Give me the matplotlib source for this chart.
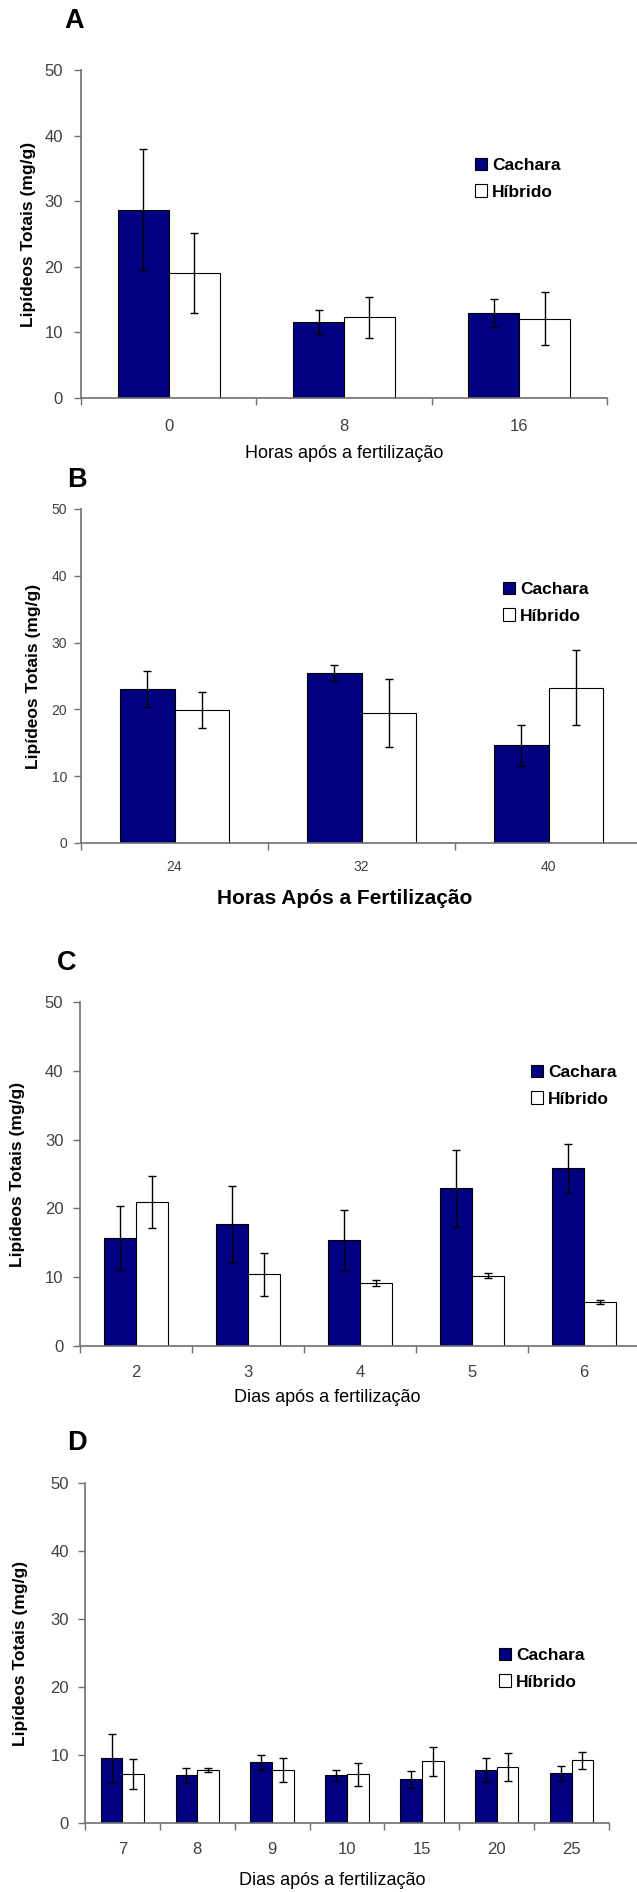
import matplotlib
matplotlib.use('Agg')
import matplotlib.pyplot as plt
import numpy as np

W, H = 637, 1892
DPI = 100

# ---------------- data ----------------
a_labels = ['0', '8', '16']
a_cachara = [28.7, 11.6, 12.9]
a_cachara_err = [9.2, 1.8, 2.15]
a_hibrido = [19.0, 12.3, 12.1]
a_hibrido_err = [6.1, 3.1, 4.05]

b_labels = ['24', '32', '40']
b_cachara = [23.1, 25.5, 14.6]
b_cachara_err = [2.7, 1.2, 3.05]
b_hibrido = [19.9, 19.4, 23.25]
b_hibrido_err = [2.7, 5.1, 5.6]

c_labels = ['2', '3', '4', '5', '6']
c_cachara = [15.7, 17.7, 15.35, 22.9, 25.8]
c_cachara_err = [4.7, 5.6, 4.4, 5.6, 3.5]
c_hibrido = [20.9, 10.4, 9.15, 10.2, 6.45]
c_hibrido_err = [3.75, 3.1, 0.4, 0.35, 0.3]

d_labels = ['7', '8', '9', '10', '15', '20', '25']
d_cachara = [9.5, 7.0, 8.9, 7.0, 6.4, 7.8, 7.3]
d_cachara_err = [3.6, 1.1, 1.07, 0.8, 1.2, 1.7, 1.1]
d_hibrido = [7.2, 7.8, 7.8, 7.15, 9.05, 8.25, 9.2]
d_hibrido_err = [2.15, 0.27, 1.8, 1.7, 2.1, 2.1, 1.25]

series_names = ['Cachara', 'Híbrido']
ylabel = 'Lipídeos Totais (mg/g)'
yticks = [0, 10, 20, 30, 40, 50]

NAVY = '#000080'
AXC = '#707070'
FONT = 'Liberation Sans'

fig = plt.figure(figsize=(W / DPI, H / DPI), dpi=DPI)
fig.patch.set_facecolor('white')


def fx(px):
    return px / W


def fy(py):
    return 1 - py / H


panels = [
    dict(letter='A', letter_xy=(64, 8), rect=(81, 70, 607, 398),
         labels=a_labels, c=a_cachara, ce=a_cachara_err, h=a_hibrido, he=a_hibrido_err,
         xlabel='Horas após a fertilização', xl_xy=(344, 453), xl_size=13, xl_weight='normal',
         yl_xy=(28, 234), tick_size=12, xpad=10, ypad=8,
         leg_xy=(475, 158)),
    dict(letter='B', letter_xy=(67, 467), rect=(81, 509, 642, 843),
         labels=b_labels, c=b_cachara, ce=b_cachara_err, h=b_hibrido, he=b_hibrido_err,
         xlabel='Horas Após a Fertilização', xl_xy=(345, 898), xl_size=15, xl_weight='bold',
         yl_xy=(34, 676), tick_size=10, xpad=7, ypad=5,
         leg_xy=(503, 582)),
    dict(letter='C', letter_xy=(57, 950), rect=(80, 1002, 640, 1346),
         labels=c_labels, c=c_cachara, ce=c_cachara_err, h=c_hibrido, he=c_hibrido_err,
         xlabel='Dias após a fertilização', xl_xy=(327, 1397), xl_size=13, xl_weight='normal',
         yl_xy=(18, 1174), tick_size=12, xpad=9, ypad=7,
         leg_xy=(531, 1065)),
    dict(letter='D', letter_xy=(67, 1430), rect=(85, 1483, 609, 1823),
         labels=d_labels, c=d_cachara, ce=d_cachara_err, h=d_hibrido, he=d_hibrido_err,
         xlabel='Dias após a fertilização', xl_xy=(332, 1880), xl_size=13, xl_weight='normal',
         yl_xy=(21, 1653), tick_size=12, xpad=9, ypad=6.5,
         leg_xy=(499, 1648)),
]

bw = 0.29
for p in panels:
    l, t, r, b = p['rect']
    ax = fig.add_axes([fx(l), fy(b), (r - l) / W, (b - t) / H])
    n = len(p['labels'])
    x = np.arange(n)
    b1 = ax.bar(x - bw / 2, p['c'], bw, color=NAVY, edgecolor='black', linewidth=0.8, zorder=2,
                label=series_names[0])
    b2 = ax.bar(x + bw / 2, p['h'], bw, color='white', edgecolor='black', linewidth=0.8, zorder=2,
                label=series_names[1])
    ax.errorbar(x - bw / 2, p['c'], yerr=p['ce'], fmt='none', ecolor='black', elinewidth=1,
                capsize=3, capthick=1, zorder=3)
    ax.errorbar(x + bw / 2, p['h'], yerr=p['he'], fmt='none', ecolor='black', elinewidth=1,
                capsize=3, capthick=1, zorder=3)
    ax.set_xlim(-0.5, n - 0.5)
    ax.set_ylim(0, 50)
    for s in ['top', 'right']:
        ax.spines[s].set_visible(False)
    for s in ['left', 'bottom']:
        ax.spines[s].set_color(AXC)
        ax.spines[s].set_linewidth(1.2)
    ax.set_yticks(yticks)
    ax.set_yticklabels([str(v) for v in yticks], fontfamily=FONT, fontsize=p['tick_size'],
                       color='#404040')
    ax.tick_params(axis='y', direction='out', length=5, width=1, color=AXC, pad=p['ypad'])
    ax.set_xticks(x)
    ax.set_xticklabels(p['labels'], fontfamily=FONT, fontsize=p['tick_size'], color='#404040')
    ax.set_xticks(np.arange(n + 1) - 0.5, minor=True)
    ax.tick_params(axis='x', which='major', length=0, pad=p['xpad'] + 5)
    ax.tick_params(axis='x', which='minor', direction='out', length=5, width=1, color=AXC)
    ax.set_facecolor('white')

    ax.legend(handles=[b1, b2], loc='upper left',
              bbox_to_anchor=(fx(p['leg_xy'][0]), fy(p['leg_xy'][1])),
              bbox_transform=fig.transFigure, frameon=False, borderaxespad=0,
              borderpad=0, handlelength=0.7, handleheight=0.7, handletextpad=0.3,
              labelspacing=0.65, prop=dict(family=FONT, size=12.5, weight='bold'))

    fig.text(fx(p['letter_xy'][0]), fy(p['letter_xy'][1]), p['letter'], ha='left', va='top',
             fontfamily=FONT, fontsize=19.5, fontweight='bold')
    fig.text(fx(p['xl_xy'][0]), fy(p['xl_xy'][1]), p['xlabel'], ha='center', va='center',
             fontfamily=FONT, fontsize=p['xl_size'], fontweight=p['xl_weight'])
    fig.text(fx(p['yl_xy'][0]), fy(p['yl_xy'][1]), ylabel, ha='center', va='center',
             rotation=90, fontfamily=FONT, fontsize=12.5, fontweight='bold')

fig.savefig('out.png', dpi=DPI, facecolor='white')
